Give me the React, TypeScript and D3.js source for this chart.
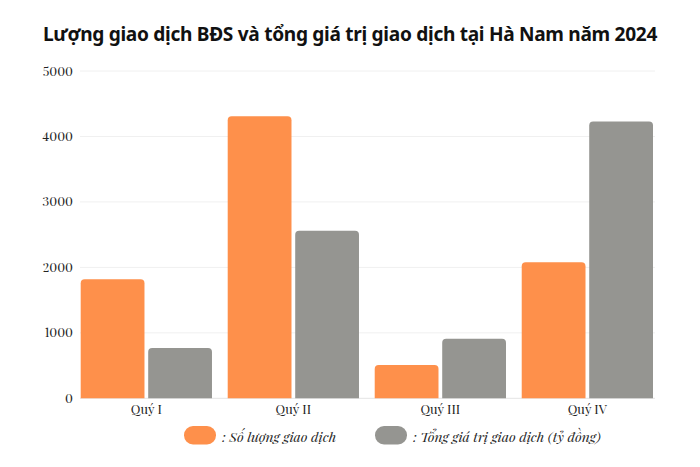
import React from "react";
import * as d3 from "d3";

const title = "Lượng giao dịch BĐS và tổng giá trị giao dịch tại Hà Nam năm 2024";
const quarters = ["Quý I", "Quý II", "Quý III", "Quý IV"];
const seriesNames = [": Số lượng giao dịch", ": Tổng giá trị giao dịch (tỷ đồng)"];
const soLuong = [1820, 4310, 510, 2080];
const tongGiaTri = [770, 2560, 910, 4230];
const yTicks = [0, 1000, 2000, 3000, 4000, 5000];
const colors = ["#FE904B", "#959591"];

const W = 700;
const H = 467;
const left = 80.7;
const right = 653;
const top = 71;
const bottom = 398.3;

function topRounded(x: number, y: number, w: number, h: number, r: number) {
  const rr = Math.min(r, h, w / 2);
  return `M${x},${y + h}V${y + rr}Q${x},${y} ${x + rr},${y}H${x + w - rr}Q${x + w},${y} ${x + w},${y + rr}V${y + h}Z`;
}

export default function App() {
  const x = d3.scaleBand<string>().domain(quarters).range([left, right]).paddingInner(0.107).paddingOuter(0);
  const xi = d3.scaleBand<string>().domain(["0", "1"]).range([0, x.bandwidth()]).paddingInner(0.055);
  const y = d3.scaleLinear().domain([0, 5000]).range([bottom, top]);
  const series = [soLuong, tongGiaTri];
  const serif = "'Playfair Display', 'Liberation Serif', 'DejaVu Serif', serif";

  return (
    <svg width={W} height={H} style={{ position: "absolute", left: 0, top: 0, background: "#fff" }}>
      <text x={350} y={41} textAnchor="middle" fontFamily="'Noto Sans', 'Open Sans', sans-serif" fontWeight={700} fontSize={19.1} fill="#111" letterSpacing={-0.3}>
        {title}
      </text>
      {yTicks.map((t) => (
        <g key={t}>
          <line x1={80} x2={655} y1={y(t)} y2={y(t)} stroke={t === 0 ? "#e4e4e4" : "#f0f0f0"} strokeWidth={1} />
          <text x={73} y={y(t)} dy="0.35em" textAnchor="end" fontFamily={serif} fontSize={13} fill="#222" style={{ fontVariantNumeric: "lining-nums" }}>
            {t}
          </text>
        </g>
      ))}
      {quarters.map((q, i) => (
        <g key={q}>
          {series.map((s, k) => {
            const bx = (x(q) as number) + (xi(String(k)) as number);
            const by = y(s[i]);
            return <path key={k} d={topRounded(bx, by, xi.bandwidth(), bottom - by, 4)} fill={colors[k]} />;
          })}
          <text x={(x(q) as number) + x.bandwidth() / 2} y={414} textAnchor="middle" fontFamily={serif} fontSize={13} fill="#222">
            {q}
          </text>
        </g>
      ))}
      {[184, 375].map((lx, k) => (
        <g key={k}>
          <rect x={lx} y={426} width={32} height={18.5} rx={9} fill={colors[k]} />
          <text x={lx + 38} y={442} fontFamily={serif} fontStyle="italic" fontSize={13.8} fill="#222">
            {seriesNames[k]}
          </text>
        </g>
      ))}
    </svg>
  );
}
